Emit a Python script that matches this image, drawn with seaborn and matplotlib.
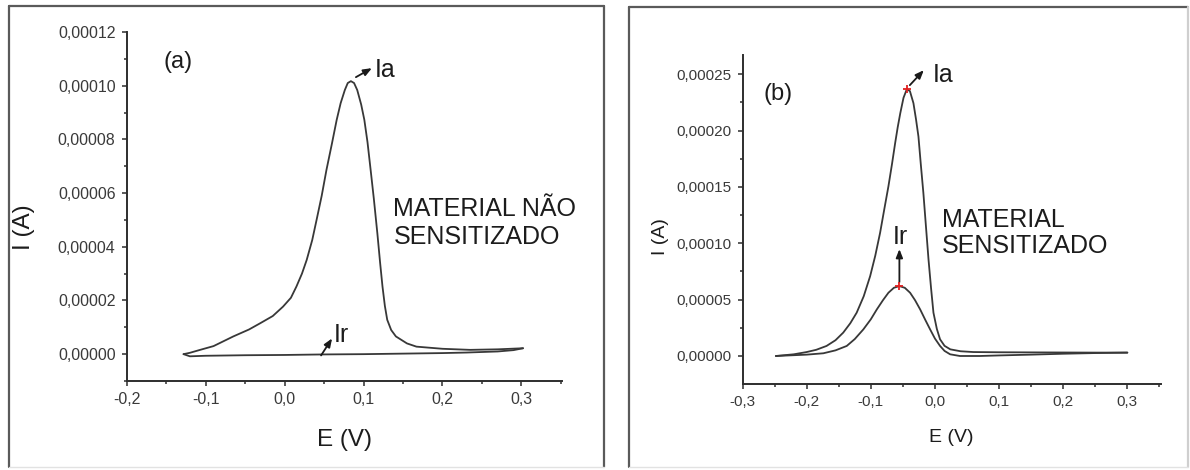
import numpy as np
import pandas as pd
import matplotlib
matplotlib.use("Agg")
import matplotlib.pyplot as plt
import seaborn as sns
from matplotlib.ticker import MultipleLocator, FuncFormatter
from matplotlib.transforms import offset_copy
from matplotlib.lines import Line2D

# ---------------- data ----------------
# Panel (a): material nao sensitizado - anodic (forward) scan, units of 1e-5 A
E_a_fwd = [-0.128, -0.12, -0.107, -0.09, -0.065, -0.045, -0.031, -0.015, -0.002, 0.008,
           0.015, 0.022, 0.028, 0.035, 0.0405, 0.047, 0.053, 0.06, 0.066, 0.071,
           0.0763, 0.080, 0.084, 0.088, 0.092, 0.097, 0.101, 0.105, 0.109, 0.113,
           0.1175, 0.121, 0.124, 0.127, 0.130, 0.135, 0.141, 0.155, 0.167, 0.2,
           0.235, 0.27, 0.302]
I_a_fwd = [0.0, 0.05, 0.16, 0.3, 0.66, 0.92, 1.15, 1.42, 1.77, 2.1,
           2.52, 3.0, 3.51, 4.25, 5.0, 5.9, 6.86, 7.85, 8.73, 9.35,
           9.84, 10.1, 10.17, 10.1, 9.84, 9.3, 8.73, 7.9, 6.86, 5.8,
           4.5, 3.4, 2.52, 1.8, 1.28, 0.9, 0.66, 0.4, 0.28, 0.2,
           0.16, 0.18, 0.22]
# Panel (a): reverse scan
E_a_rev = [0.302, 0.29, 0.27, 0.23, 0.2, 0.15, 0.1, 0.05, 0.0, -0.05, -0.1, -0.12, -0.128]
I_a_rev = [0.22, 0.15, 0.1, 0.06, 0.04, 0.02, 0.0, -0.01, -0.03, -0.04, -0.06, -0.08, 0.0]

# Panel (b): material sensitizado - Ia curve, units of 1e-5 A
E_b_ia = [-0.248, -0.22, -0.2, -0.185, -0.169, -0.155, -0.143, -0.132, -0.122, -0.111,
          -0.101, -0.093, -0.0855, -0.079, -0.0725, -0.067, -0.062, -0.058, -0.054, -0.049,
          -0.0438, -0.039, -0.0335, -0.0295, -0.0257, -0.022, -0.018, -0.014, -0.010, -0.006,
          -0.0023, 0.003, 0.008, 0.015, 0.024, 0.04, 0.06, 0.1, 0.15, 0.2,
          0.25, 0.3]
I_b_ia = [0.0, 0.15, 0.35, 0.55, 0.89, 1.4, 2.07, 2.9, 3.84, 5.3,
          7.08, 8.9, 10.92, 13.0, 15.05, 17.0, 18.89, 20.3, 21.54, 22.9,
          23.67, 23.5, 22.43, 21.0, 19.47, 17.0, 14.46, 11.5, 8.56, 6.0,
          3.84, 2.4, 1.48, 0.9, 0.59, 0.42, 0.35, 0.33, 0.32, 0.31,
          0.3, 0.3]
# Panel (b): Ir curve
E_b_ir = [-0.248, -0.2, -0.174, -0.155, -0.1375, -0.125, -0.1116, -0.1, -0.0906, -0.081,
          -0.0725, -0.064, -0.0554, -0.047, -0.0387, -0.031, -0.023, -0.015, -0.0075, 0.0,
          0.008, 0.015, 0.0237, 0.039, 0.07, 0.1, 0.15, 0.2, 0.25, 0.3]
I_b_ir = [0.0, 0.12, 0.24, 0.5, 0.89, 1.5, 2.36, 3.25, 4.13, 4.95,
          5.61, 6.05, 6.2, 6.05, 5.61, 4.95, 4.13, 3.2, 2.36, 1.55,
          0.89, 0.45, 0.15, 0.0, 0.0, 0.05, 0.12, 0.2, 0.26, 0.3]

SCALE = 1e-5
panel_tags = ["(a)", "(b)"]
panel_texts = ["MATERIAL NÃO\nSENSITIZADO", "MATERIAL\nSENSITIZADO"]
xlabel = "E (V)"
ylabel = "I (A)"

# ---------------- style ----------------
sns.set_style("ticks")
plt.rcParams["font.family"] = ["Liberation Sans", "DejaVu Sans"]
plt.rcParams["axes.unicode_minus"] = False

W, H = 1190, 470
fig = plt.figure(figsize=(W / 100, H / 100), dpi=100)
fig.patch.set_facecolor("white")

def fx(px):
    return px / W

def fy(py):
    return 1 - py / H

# panel frames
frame_col = "#5a5a5a"
for (x0, y0, x1, y1, rcol) in [(9.3, 6, 604, 467, frame_col), (629.3, 7.3, 1188, 467, "#cfcfcf")]:
    fig.add_artist(Line2D([fx(x0), fx(x0)], [fy(y1), fy(y0)], color=frame_col, lw=1.6, transform=fig.transFigure))
    fig.add_artist(Line2D([fx(x0), fx(x1)], [fy(y0), fy(y0)], color=frame_col, lw=1.6, transform=fig.transFigure))
    fig.add_artist(Line2D([fx(x1), fx(x1)], [fy(y0), fy(y1)], color=rcol, lw=1.6, transform=fig.transFigure))
    fig.add_artist(Line2D([fx(x0), fx(x1)], [fy(y1), fy(y1)], color="#e2e2e2", lw=1.0, transform=fig.transFigure))

axA = fig.add_axes([fx(126.7), fy(381), fx(561.7) - fx(126.7), fy(32) - fy(381)])
axB = fig.add_axes([fx(742.5), fy(383.5), fx(1160.7) - fx(742.5), fy(55) - fy(383.5)])

curve_col = "#383838"
spine_col = "#2e2e2e"
text_col = "#1c1c1c"

def draw(ax, E, I):
    df = pd.DataFrame({"E": E, "I": np.array(I) * SCALE})
    sns.lineplot(data=df, x="E", y="I", sort=False, estimator=None, ax=ax,
                 color=curve_col, lw=1.3)

draw(axA, E_a_fwd, I_a_fwd)
draw(axA, E_a_rev, I_a_rev)
draw(axB, E_b_ia, I_b_ia)
draw(axB, E_b_ir, I_b_ir)

def xfmt(v, p):
    s = f"{v:.1f}"
    if s == "-0.0":
        s = "0.0"
    return s.replace(".", ",")

def yfmt(v, p):
    s = f"{v:.5f}"
    if s.startswith("-0.00000"):
        s = s[1:]
    return s.replace(".", ",")

for ax, xl, yl, ymaj, ymin_, lsize, albl in [
        (axA, (-0.2, 0.351), (-1e-5, 1.2001e-4), 2e-5, 1e-5, 11.5, 17.5),
        (axB, (-0.3, 0.352), (-2.44e-5, 2.67e-4), 5e-5, 2.5e-5, 11, 14)]:
    ax.set_xlim(*xl)
    ax.set_ylim(*yl)
    ax.xaxis.set_major_locator(MultipleLocator(0.1))
    ax.xaxis.set_minor_locator(MultipleLocator(0.05))
    ax.yaxis.set_major_locator(MultipleLocator(ymaj))
    ax.yaxis.set_minor_locator(MultipleLocator(ymin_))
    ax.xaxis.set_major_formatter(FuncFormatter(xfmt))
    ax.yaxis.set_major_formatter(FuncFormatter(yfmt))
    sns.despine(ax=ax)
    for s in ["left", "bottom"]:
        ax.spines[s].set_color(spine_col)
        ax.spines[s].set_linewidth(1.4)
    ax.tick_params(which="major", direction="out", length=3.5, width=1.1, color=spine_col,
                   labelsize=lsize, labelcolor="#3a3a3a", pad=4.5)
    ax.tick_params(which="minor", direction="out", length=2.2, width=1.1, color=spine_col)
    ax.set_facecolor("white")
    ax.grid(False)
    ax.set_xlabel(xlabel, fontsize=albl, color=text_col, va="center")
    ax.set_ylabel(ylabel, fontsize=albl, color=text_col, va="center")

axA.xaxis.set_label_coords(0.5, -0.169)
axA.yaxis.set_label_coords(-0.236, 0.441)
axB.xaxis.set_label_coords(0.5, -0.163)
axB.yaxis.set_label_coords(-0.197, 0.446)

# panel tags and descriptions
axA.text(0.118, 0.914, panel_tags[0], transform=axA.transAxes, fontsize=17,
         color=text_col, ha="center", va="center")
axB.text(0.085, 0.881, panel_tags[1], transform=axB.transAxes, fontsize=17,
         color=text_col, ha="center", va="center")
axA.text(0.613, 0.453, panel_texts[0], transform=axA.transAxes, fontsize=18,
         color=text_col, ha="left", va="center", linespacing=1.2)
axB.text(0.476, 0.458, panel_texts[1], transform=axB.transAxes, fontsize=18,
         color=text_col, ha="left", va="center", linespacing=1.15)

def off(ax, dx, dy):
    return offset_copy(ax.transData, fig=fig, x=dx, y=dy, units="dots")

def label_arrow(ax, px, py, start, end, text, toff, ha="left"):
    ax.annotate("", xy=(px, py), xycoords=off(ax, *end),
                xytext=(px, py), textcoords=off(ax, *start),
                arrowprops=dict(arrowstyle="-|>,head_length=0.5,head_width=0.2",
                                color="#1a1a1a", lw=1.3, shrinkA=0, shrinkB=0))
    ax.text(px, py, text, transform=off(ax, *toff), fontsize=18, color=text_col,
            ha=ha, va="center")

# (a) Ia at the anodic peak
ka = int(np.argmax(I_a_fwd))
label_arrow(axA, E_a_fwd[ka], I_a_fwd[ka] * SCALE, (5, 4), (21, 13), "Ia", (24, 11))
# (a) Ir on the reverse scan
kr = E_a_rev.index(0.05)
label_arrow(axA, E_a_rev[kr], I_a_rev[kr] * SCALE, (-3, -1), (8, 16), "Ir", (10, 19))

# (b) Ia and Ir peaks with red markers
kb = int(np.argmax(I_b_ia))
kc = int(np.argmax(I_b_ir))
axB.plot([E_b_ia[kb], E_b_ir[kc]], [I_b_ia[kb] * SCALE, I_b_ir[kc] * SCALE], "+",
         color="#e02020", ms=6, mew=1.3, zorder=5)
label_arrow(axB, E_b_ia[kb], I_b_ia[kb] * SCALE, (3, 4), (17, 19), "Ia", (26, 14))
label_arrow(axB, E_b_ir[kc], I_b_ir[kc] * SCALE, (0, 4), (0, 37), "Ir", (1, 49), ha="center")

fig.savefig("out.png", dpi=100, facecolor="white")
